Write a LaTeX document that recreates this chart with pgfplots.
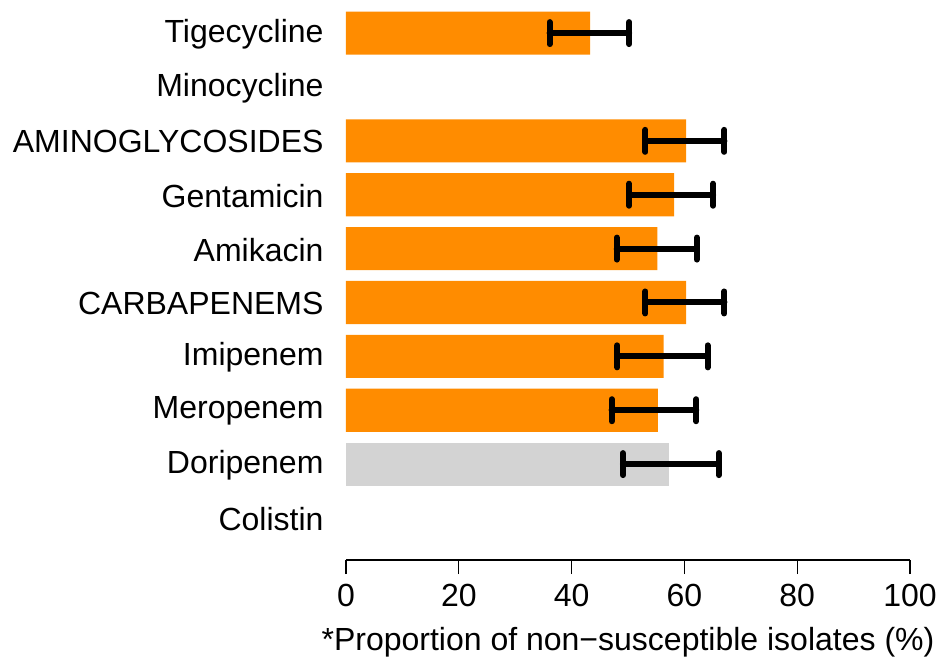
\documentclass[border=0pt]{standalone}
\usepackage{pgfplots}
\pgfplotsset{compat=1.18}
\usepackage{fontspec}
\setmainfont{Liberation Sans}
\definecolor{barorange}{HTML}{FF8C00}
\definecolor{bargray}{HTML}{D3D3D3}
\begin{document}
\begin{tikzpicture}
\begin{axis}[
  at={(0,0)}, anchor=south west,
  scale only axis, width=564bp, height=549bp,
  xmin=0, xmax=100, ymin=-0.78, ymax=9.41,
  axis x line*=bottom, axis y line*=left,
  y axis line style={draw=none},
  x axis line style={line width=1.3bp, -},
  xtick={0,20,...,100},
  tick align=outside,
  major tick length=14bp,
  xtick style={line width=1.3bp, black},
  ytick style={draw=none},
  ytick={0,...,9},
  yticklabels={Colistin, Doripenem, Meropenem, Imipenem, CARBAPENEMS, Amikacin, Gentamicin, AMINOGLYCOSIDES, Minocycline, Tigecycline},
  ticklabel style={font=\fontsize{32bp}{37bp}\selectfont},
  label style={font=\fontsize{32bp}{37bp}\selectfont},
  /pgf/number format/assume math mode=true,
  yticklabel style={xshift=-5bp, yshift=-1bp},
  xticklabel style={yshift=-7bp},
  xlabel={*Proportion of non−susceptible isolates (\%)},
  xlabel style={yshift=-13bp},
  clip=false,
]
\addplot[xbar, bar width=0.8, bar shift=0pt, fill=barorange, draw=none,
  error bars/.cd, x dir=both, x explicit,
  error bar style={line width=6bp, line cap=round, black},
  error mark options={rotate=90, line width=6bp, mark size=11bp, line cap=round, black}]
  table[x=v, y=y, x error plus=ep, x error minus=em] {
  y  v     ep   em
  9  43.3  6.9  7.2
  7  60.3  6.8  7.2
  6  58.2  6.9  8.0
  5  55.2  7.0  7.2
  4  60.3  6.8  7.2
  3  56.3  7.8  8.2
  2  55.3  6.8  8.2
};
\addplot[xbar, bar width=0.8, bar shift=0pt, fill=bargray, draw=none,
  error bars/.cd, x dir=both, x explicit,
  error bar style={line width=6bp, line cap=round, black},
  error mark options={rotate=90, line width=6bp, mark size=11bp, line cap=round, black}]
  table[x=v, y=y, x error plus=ep, x error minus=em] {
  y  v     ep   em
  1  57.3  8.8  8.2
};
\end{axis}
\pgfresetboundingbox
\path (-346bp,-98bp) rectangle (596bp,560bp);
\end{tikzpicture}
\end{document}
